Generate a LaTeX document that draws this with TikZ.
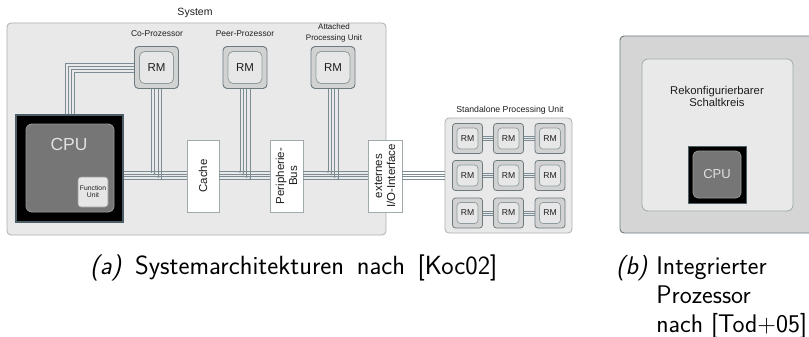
\documentclass[tikz,border=0pt]{standalone}
\usepackage{fontspec}
\newfontfamily\diafont{Liberation Sans}
\usetikzlibrary{calc}

\definecolor{sysfill}{HTML}{E9E9E9}
\definecolor{sysdraw}{HTML}{A8B0B2}
\definecolor{rmfill}{HTML}{D2D2D2}
\definecolor{rmdraw}{HTML}{6D7A7E}
\definecolor{rminfill}{HTML}{E7E7E7}
\definecolor{rmindraw}{HTML}{8F9C9F}
\definecolor{cpuedge}{HTML}{4E5E66}
\definecolor{cpufill}{HTML}{767676}
\definecolor{cpuline}{HTML}{9A9A9A}
\definecolor{fufill}{HTML}{E6E6E6}
\definecolor{boxdraw}{HTML}{A0AAAC}
\definecolor{buscol}{HTML}{7B8C94}
\definecolor{chipfill}{HTML}{D5D5D5}
\definecolor{chipdraw}{HTML}{6F7C80}
\definecolor{txt}{HTML}{1E1E1E}

\newcommand\fs[2]{\diafont\fontsize{#1}{#2}\selectfont}

\begin{document}
\begin{tikzpicture}[x=1pt,y=-1pt,
  frame/.style={draw=sysdraw, fill=sysfill, rounded corners=4pt, line width=0.8pt, inner sep=0pt},
  rmout/.style={draw=rmdraw, fill=rmfill, rounded corners=4pt, line width=0.9pt,
    minimum width=44pt, minimum height=42pt, inner sep=0pt},
  rmin/.style={draw=rmindraw, fill=rminfill, rounded corners=5pt, line width=0.8pt,
    minimum width=34pt, minimum height=32pt, inner sep=0pt, text=txt, font=\fs{11.5}{13}},
  rmsout/.style={draw=rmdraw, fill=rmfill, rounded corners=3pt, line width=0.8pt,
    minimum width=30pt, minimum height=30pt, inner sep=0pt},
  rmsin/.style={draw=rmindraw, fill=rminfill, rounded corners=3.5pt, line width=0.7pt,
    minimum width=21pt, minimum height=21pt, inner sep=0pt, text=txt, font=\fs{8.6}{10}},
  busbox/.style={draw=boxdraw, fill=white, line width=0.8pt, minimum width=32pt,
    minimum height=72pt, inner sep=0pt},
  boxtext/.style={rotate=90, align=center, text=txt, font=\fs{11.5}{13}},
  lbl/.style={text=txt, align=center, inner sep=0pt},
  busline/.style={draw=buscol, line width=0.75pt},
  caption/.style={inner sep=0pt, font=\sffamily\fontsize{25.5}{29}\selectfont}
]
\useasboundingbox (0,0) rectangle (809,337);

% ---------------- (a) system architectures ----------------
\node[frame, minimum width=379pt, minimum height=212pt] (sys) at (196.5,129) {};
\node[lbl, font=\fs{10.5}{12}] (systxt) at (195,13) {System};

% host CPU with function unit
\node[draw=cpuedge, fill=black, line width=1.2pt, minimum width=107pt, minimum height=107pt,
  inner sep=0pt] (cpu) at (69.5,168.5) {};
\node[draw=cpuline, fill=cpufill, rounded corners=6pt, line width=0.8pt, minimum width=88pt,
  minimum height=88pt, inner sep=0pt] (cpuin) at (70,168) {};
\node[lbl, text=white!88!black, font=\fs{17.5}{19}] (cputxt) at (69,144) {CPU};
\node[draw=cpuline, fill=fufill, rounded corners=3pt, line width=0.6pt, minimum width=30pt,
  minimum height=30pt, inner sep=0pt, text=txt, align=center, font=\fs{6.8}{7}]
  (fu) at (93,192) {Function\\Unit};

% reconfigurable modules attached to the system
\node[rmout] (co) at (156.5,67.5) {};
\node[rmin] (coin) at (co) {RM};
\node[lbl, font=\fs{8.5}{10}] (cotxt) at (157,33.5) {Co-Prozessor};

\node[rmout] (peer) at (245,67.5) {};
\node[rmin] (peerin) at (peer) {RM};
\node[lbl, font=\fs{8.4}{10}] (peertxt) at (245,33.5) {Peer-Prozessor};

\node[rmout] (att) at (333,67.5) {};
\node[rmin] (attin) at (att) {RM};
\node[lbl, font=\fs{8}{11}] (atttxt) at (334,33) {Attached\\Processing Unit};

% boxes on the bus
\node[busbox] (cache) at (203,176) {};
\node[boxtext] at (cache) {Cache};
\node[busbox, minimum width=33pt] (pbus) at (286.5,176) {};
\node[boxtext] at (pbus) {Peripherie-\\Bus};
\node[busbox, minimum width=34pt] (io) at (385,176) {};
\node[boxtext] at (io) {externes\\I/O-Interface};

% standalone processing unit
\node[frame, minimum width=127pt, minimum height=115pt] (spu) at (508.5,175.5) {};
\node[lbl, font=\fs{8.7}{10}] (sputxt) at (510,110) {Standalone Processing Unit};
\foreach \r/\y in {1/138.5,2/175.5,3/213}{
  \foreach \c/\x in {1/467.5,2/508.5,3/550}{
    \node[rmsout] (g\r\c) at (\x,\y) {};
    \node[rmsin] at (g\r\c) {RM};
  }
  \foreach \c/\n in {1/2,2/3}{
    \foreach \d in {-2,0,2}{
      \draw[busline, line width=0.6pt] ($(g\r\c.east)+(0,\d)$) -- ($(g\r\n.west)+(0,\d)$);
    }
  }
}

% four-wire system bus
\coordinate (b1) at (0,171.75);
\coordinate (b2) at (0,174.25);
\coordinate (b3) at (0,176.75);
\coordinate (b4) at (0,179.25);
\foreach \a/\b in {cpu/cache,cache/pbus,pbus/io,io/spu}{
  \foreach \i in {1,2,3,4}{
    \draw[busline] (\a.east |- b\i) -- (\b.west |- b\i);
  }
}

% drops from the modules onto the bus
\foreach \m in {co,peer,att}{
  \foreach \i/\dx in {1/-5,2/-1.67,3/1.67,4/5}{
    \draw[busline] ($(\m.south)+(\dx,0)$) -- ($(\m.south |- b\i)+(\dx,0)$);
    \fill[buscol] ($(\m.south |- b\i)+(\dx,0)$) circle (1.1);
  }
}

% direct link between co-processor and CPU
\foreach \d in {-4.5,-1.5,1.5,4.5}{
  \draw[busline] ($(co.west)+(0,\d)$) -| ($(cpu.north)+(\d,0)$);
}

% ---------------- (b) integrated processor ----------------
\node[draw=chipdraw, fill=chipfill, rounded corners=4pt, line width=0.9pt, minimum width=195pt,
  minimum height=197pt, inner sep=0pt] (chip) at (717.5,134.5) {};
\node[draw=boxdraw, fill=sysfill, rounded corners=6pt, line width=0.8pt, minimum width=151pt,
  minimum height=152pt, inner sep=0pt] (fabric) at (717.5,135) {};
\node[lbl, font=\fs{11.3}{11.5}] (fabtxt) at (717,96.5) {Rekonfigurierbarer\\Schaltkreis};
\node[draw=cpuedge, fill=black, line width=1pt, minimum width=58pt, minimum height=57pt,
  inner sep=0pt] (cpub) at (717,174.5) {};
\node[draw=cpuline, fill=cpufill, rounded corners=5pt, line width=0.7pt, minimum width=48pt,
  minimum height=47pt, inner sep=0pt, text=white!88!black, font=\fs{13}{15}] (cpubin) at (cpub) {CPU};

% ---------------- captions ----------------
\node[caption, anchor=base west, font=\sffamily\fontsize{26.3}{29}\selectfont]
  (capa) at (90,274) {\spaceskip=0.48em\relax\textit{(a)} Systemarchitekturen nach [Koc02]};
\node[caption, anchor=base west] (capb) at (616,274)
  {\textit{(b)} \begin{tabular}[t]{@{}l@{}}Integrierter\\Prozessor\\nach [Tod+05]\end{tabular}};
\end{tikzpicture}
\end{document}
